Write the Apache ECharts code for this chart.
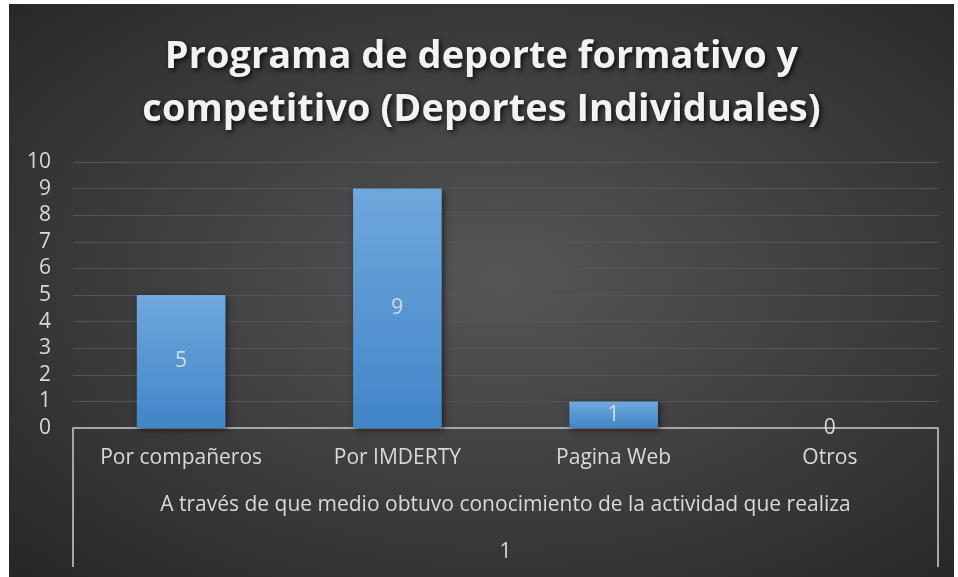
<!DOCTYPE html>
<html>
<head>
<meta charset="utf-8">
<script src="https://cdn.jsdelivr.net/npm/echarts@6/dist/echarts.min.js"></script>
<style>
  html, body { margin: 0; padding: 0; background: #fff; }
  .chartMain {
    position: absolute;
    left: 9px;
    top: 4px;
    width: 945px;
    height: 573px;
    background: radial-gradient(ellipse at 52% 48%, #565656 0%, #3c3c3c 55%, #262626 100%);
  }
</style>
</head>
<body>
<div class="chartMain" id="chart"></div>
<script>
// datos
const categorias = ["Por compañeros", "Por IMDERTY", "Pagina Web", "Otros"]
const valores = [5, 9, 1, 0]
const grupo = ["1"]
const tituloTexto = "Programa de deporte formativo y\ncompetitivo (Deportes Individuales)"
const ejeNombre = "A través de que medio obtuvo conocimiento de la actividad que realiza"

const fuente = "Open Sans, Lato, sans-serif"
const gris = "#d9d9d9"

let myChart = echarts.init(document.getElementById("chart"))
let option = {
  backgroundColor: "transparent",
  title: {
    text: tituloTexto,
    left: "center",
    top: 22,
    textStyle: {
      color: "#f2f2f2",
      fontFamily: fuente,
      fontWeight: "bold",
      fontSize: 38,
      lineHeight: 53,
      textShadowColor: "rgba(0,0,0,0.8)",
      textShadowBlur: 5,
      textShadowOffsetX: 2,
      textShadowOffsetY: 2
    }
  },
  grid: {
    left: 64,
    right: 16,
    top: 158,
    bottom: 149,
    containLabel: false
  },
  xAxis: [
    {
      type: "category",
      data: categorias,
      axisLine: { show: true, lineStyle: { color: "#a6a6a6", width: 2 } },
      axisTick: { show: false },
      axisLabel: { color: gris, fontFamily: fuente, fontSize: 21, margin: 20 },
      name: ejeNombre,
      nameLocation: "middle",
      nameGap: 67,
      nameTextStyle: { color: gris, fontFamily: fuente, fontSize: 21 }
    },
    {
      type: "category",
      data: grupo,
      position: "bottom",
      axisLine: { show: false },
      axisTick: { show: true, length: 139, lineStyle: { color: "#a6a6a6", width: 2 } },
      axisLabel: { color: gris, fontFamily: fuente, fontSize: 21, margin: 114 },
      splitLine: { show: false }
    }
  ],
  yAxis: {
    type: "value",
    min: 0,
    max: 10,
    interval: 1,
    axisLine: { show: false },
    axisTick: { show: false },
    axisLabel: { color: gris, fontFamily: fuente, fontSize: 21, margin: 22 },
    splitLine: { lineStyle: { color: "#555555", width: 1 } }
  },
  series: [
    {
      type: "bar",
      data: valores,
      barWidth: "41%",
      itemStyle: {
        color: new echarts.graphic.LinearGradient(0, 0, 0, 1, [
          { offset: 0, color: "#6fa8dc" },
          { offset: 1, color: "#4185c8" }
        ]),
        shadowColor: "rgba(0,0,0,0.55)",
        shadowBlur: 6,
        shadowOffsetX: 2,
        shadowOffsetY: 2
      },
      label: {
        show: true,
        position: "inside",
        formatter: "{c}",
        color: gris,
        fontFamily: fuente,
        fontSize: 21
      }
    }
  ]
}
myChart.setOption(option)
window.addEventListener("resize", () => {
  myChart.resize()
})
</script>
</body>
</html>
